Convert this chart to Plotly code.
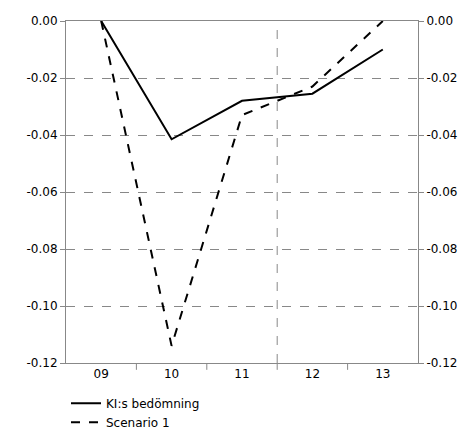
import plotly.graph_objects as go

cats = ["09", "10", "11", "12", "13"]
ki = [0.0, -0.0415, -0.028, -0.0255, -0.010]
scen = [0.0, -0.114, -0.033, -0.023, 0.0]
yticks = [0.0, -0.02, -0.04, -0.06, -0.08, -0.10, -0.12]
ylabels = ["0.00", "-0.02", "-0.04", "-0.06", "-0.08", "-0.10", "-0.12"]
xs = list(range(len(cats)))

fig = go.Figure()
fig.add_trace(go.Scatter(x=xs, y=ki, mode="lines", name="KI:s bedömning",
                         line=dict(color="black", width=2)))
fig.add_trace(go.Scatter(x=xs, y=scen, mode="lines", name="Scenario 1",
                         line=dict(color="black", width=2, dash="dash")))
fig.add_trace(go.Scatter(x=[None], y=[None], yaxis="y2", showlegend=False))

yax = dict(range=[-0.12, 0], tickvals=yticks, ticktext=ylabels, showgrid=True,
           gridcolor="#888", griddash="dash", gridwidth=1, zeroline=False,
           ticks="outside", ticklen=5, tickcolor="#888", showline=True,
           linecolor="#888", linewidth=1, tickfont=dict(size=12, color="black"))
fig.update_layout(
    width=475, height=429, paper_bgcolor="white", plot_bgcolor="white",
    margin=dict(l=58, r=65, t=13, b=74, autoexpand=False),
    font=dict(family="DejaVu Sans", size=12, color="black"),
    xaxis=dict(range=[-0.5, 4.5], tickvals=xs, ticktext=cats, showgrid=False,
               zeroline=False, ticks="", showline=True, linecolor="#888", mirror=True,
               tickfont=dict(size=12)),
    yaxis=yax,
    yaxis2=dict(yax, overlaying="y", side="right", showgrid=False),
    legend=dict(x=0.0, y=-0.075, xanchor="left", yanchor="top", bgcolor="rgba(0,0,0,0)",
                font=dict(size=12), tracegroupgap=0, itemwidth=30),
    showlegend=True,
)
for xv in [0.5, 1.5, 2.5, 3.5]:
    fig.add_shape(type="line", xref="x", yref="paper", x0=xv, x1=xv, y0=0, y1=-0.02,
                  line=dict(color="#888", width=1))
fig.add_shape(type="line", xref="x", yref="paper", x0=2.5, x1=2.5, y0=0, y1=1,
              line=dict(color="#888", width=1, dash="dash"), layer="below")
fig.write_html("out.html")
